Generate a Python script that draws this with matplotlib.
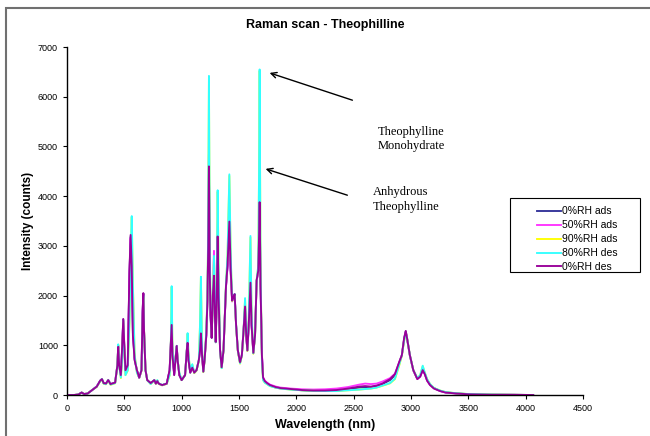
import matplotlib.pyplot as plt
from matplotlib.patches import Rectangle

# Raman spectra of theophylline at different RH steps
wavelength = [0, 60, 100, 128, 150, 180, 220, 260, 290, 305, 320, 340, 360, 380, 420,
              440, 447, 455, 470, 480, 491, 500, 510, 530, 545, 555, 565, 575, 590, 610,
              630, 650, 660, 666, 672, 685, 700, 730, 762, 775, 788, 800, 830, 870, 895,
              905, 913, 920, 935, 957, 965, 980, 1000, 1030, 1045, 1052, 1060, 1075, 1093, 1110,
              1130, 1150, 1160, 1168, 1178, 1189, 1200, 1215, 1225, 1232, 1238, 1245, 1252, 1262, 1272,
              1282, 1290, 1297, 1305, 1314, 1322, 1335, 1349, 1365, 1380, 1387, 1400, 1416, 1428, 1440,
              1450, 1462, 1475, 1490, 1509, 1525, 1540, 1553, 1563, 1573, 1585, 1600, 1610, 1625, 1640,
              1654, 1668, 1675, 1680, 1688, 1700, 1710, 1725, 1745, 1770, 1820, 1860, 1950, 2050, 2150,
              2250, 2350, 2450, 2550, 2600, 2650, 2700, 2750, 2817, 2860, 2898, 2920, 2940, 2954, 2965,
              2990, 3020, 3055, 3080, 3102, 3120, 3140, 3166, 3200, 3253, 3300, 3398, 3500, 3700, 3900,
              4065]

rh0_ads = [0, 0, 10, 50, 20, 30, 100, 170, 290, 320, 240, 230, 300, 220, 250,
           600, 980, 600, 390, 880, 1520, 980, 480, 590, 2450, 3180, 2600, 1250, 720, 500,
           350, 500, 1680, 2040, 1300, 500, 300, 240, 300, 230, 280, 230, 200, 230, 490,
           980, 1400, 800, 410, 990, 700, 400, 300, 400, 900, 1060, 700, 450, 560, 450,
           500, 700, 900, 1250, 800, 470, 700, 1200, 1900, 3050, 4830, 2550, 1600, 1150, 2000,
           2450, 1600, 1060, 1800, 3200, 2000, 900, 550, 900, 1800, 2200, 2600, 3500, 2500, 1900,
           1950, 2030, 1400, 900, 650, 800, 1300, 1790, 1200, 890, 1400, 2270, 1400, 840, 1200,
           2300, 2500, 3200, 3900, 2200, 800, 340, 270, 230, 190, 150, 135, 115, 95, 85,
           85, 90, 110, 150, 160, 160, 180, 220, 300, 400, 650, 800, 1130, 1280, 1150,
           800, 500, 330, 380, 510, 430, 300, 210, 140, 85, 55, 32, 18, 8, 4,
           0]

rh50_ads = [0, 0, 10, 50, 20, 30, 100, 175, 285, 315, 235, 230, 295, 215, 250,
            610, 1000, 610, 380, 860, 1500, 970, 470, 580, 2400, 3150, 2700, 1300, 740, 490,
            340, 490, 1650, 2020, 1320, 510, 300, 235, 295, 225, 285, 225, 195, 225, 480,
            960, 1450, 820, 420, 980, 710, 410, 300, 410, 890, 1080, 720, 460, 570, 460,
            510, 700, 920, 1300, 820, 480, 710, 1220, 1950, 3100, 4700, 2600, 1650, 1200, 2100,
            2900, 1700, 1080, 1850, 3150, 2050, 920, 560, 910, 1780, 2180, 2580, 3450, 2450, 1880,
            1940, 2010, 1390, 890, 660, 810, 1310, 1770, 1210, 900, 1410, 2250, 1420, 850, 1210,
            2290, 2480, 3100, 3800, 2250, 820, 360, 290, 250, 210, 170, 150, 130, 115, 110,
            115, 130, 160, 210, 230, 220, 230, 270, 340, 430, 660, 800, 1120, 1270, 1140,
            790, 490, 320, 370, 500, 420, 290, 200, 135, 80, 50, 30, 16, 7, 3,
            0]

rh90_ads = [0, 0, 10, 50, 20, 30, 100, 165, 275, 315, 225, 215, 295, 205, 235,
            590, 1010, 620, 340, 690, 1480, 920, 400, 490, 1450, 2750, 3580, 2250, 820, 450,
            350, 490, 1480, 1980, 1320, 500, 300, 220, 295, 225, 295, 225, 195, 225, 390,
            880, 2170, 920, 500, 970, 700, 440, 300, 400, 880, 1230, 800, 490, 610, 440,
            490, 690, 1390, 2360, 910, 460, 690, 1280, 1980, 3480, 6380, 3000, 1800, 1190, 1880,
            2760, 1790, 1070, 1980, 4090, 2500, 900, 540, 890, 1790, 2240, 2790, 4410, 2790, 1890,
            1940, 2020, 1390, 890, 630, 790, 1290, 1930, 1290, 890, 1490, 3170, 1590, 830, 1190,
            2300, 2590, 4480, 6520, 2500, 700, 300, 250, 220, 180, 150, 130, 110, 95, 85,
            80, 80, 95, 110, 120, 130, 150, 185, 235, 320, 600, 790, 1090, 1240, 1150,
            800, 500, 340, 400, 580, 450, 320, 220, 140, 90, 60, 35, 20, 10, 5,
            0]

rh80_des = [0, 0, 10, 50, 20, 30, 100, 170, 280, 320, 230, 220, 300, 210, 240,
            600, 1020, 600, 350, 700, 1500, 900, 400, 500, 1500, 2800, 3600, 2200, 800, 450,
            350, 500, 1500, 2000, 1300, 500, 300, 220, 300, 230, 300, 230, 200, 230, 400,
            900, 2190, 900, 500, 980, 700, 450, 300, 400, 900, 1245, 800, 500, 620, 450,
            500, 700, 1400, 2380, 900, 470, 700, 1300, 2000, 3500, 6420, 3000, 1800, 1200, 1900,
            2800, 1800, 1070, 2000, 4120, 2500, 900, 540, 900, 1800, 2250, 2800, 4440, 2800, 1900,
            1950, 2030, 1400, 900, 640, 800, 1300, 1950, 1300, 900, 1500, 3200, 1600, 840, 1200,
            2310, 2600, 4500, 6550, 2500, 700, 300, 250, 220, 180, 150, 130, 110, 95, 85,
            80, 80, 95, 110, 120, 130, 150, 190, 240, 330, 620, 800, 1100, 1250, 1150,
            800, 500, 340, 400, 590, 450, 320, 220, 140, 90, 60, 35, 20, 10, 5,
            0]

rh0_des = [0, 0, 10, 50, 20, 30, 100, 170, 290, 320, 240, 230, 300, 220, 250,
           600, 970, 600, 400, 900, 1530, 1000, 500, 600, 2500, 3220, 2600, 1200, 700, 500,
           350, 500, 1700, 2050, 1300, 500, 300, 240, 300, 230, 280, 230, 200, 230, 500,
           1000, 1410, 800, 400, 985, 700, 400, 300, 400, 900, 1050, 700, 450, 550, 450,
           500, 700, 900, 1240, 800, 470, 700, 1200, 1900, 3000, 4600, 2500, 1600, 1150, 2000,
           2400, 1600, 1070, 1800, 3190, 2000, 900, 560, 900, 1800, 2200, 2600, 3490, 2500, 1900,
           1950, 2030, 1400, 900, 660, 800, 1300, 1780, 1200, 900, 1400, 2260, 1400, 850, 1200,
           2310, 2500, 3200, 3880, 2200, 800, 350, 280, 240, 200, 160, 140, 120, 100, 90,
           90, 100, 130, 170, 180, 170, 190, 230, 320, 420, 670, 800, 1150, 1290, 1150,
           800, 500, 320, 370, 500, 420, 290, 200, 130, 80, 50, 30, 15, 5, 5,
           0]

labels = ['0%RH ads', '50%RH ads', '90%RH ads', '80%RH des', '0%RH des']
colors = ['#333399', '#FF33FF', '#FFFF00', '#33FFFF', '#990099']
series = [rh0_ads, rh50_ads, rh90_ads, rh80_des, rh0_des]

plt.rcParams['font.family'] = ['Liberation Sans', 'DejaVu Sans']

fig = plt.figure(figsize=(6.5, 4.36), dpi=100)
ax = fig.add_axes([0.103, 0.094, 0.794, 0.798])

for ys, lab, col in zip(series, labels, colors):
    ax.plot(wavelength, ys, color=col, lw=1.35, label=lab)

ax.set_xlim(0, 4500)
ax.set_ylim(0, 7000)
ax.set_xticks(range(0, 4501, 500))
ax.set_yticks(range(0, 7001, 1000))
ax.tick_params(labelsize=6.5, length=3, width=0.8, direction='out')
for side in ['top', 'right']:
    ax.spines[side].set_visible(False)
for side in ['left', 'bottom']:
    ax.spines[side].set_linewidth(1.0)

ax.set_xlabel('Wavelength (nm)', fontsize=9, fontweight='bold', labelpad=4)
ax.set_ylabel('Intensity (counts)', fontsize=8.5, fontweight='bold', labelpad=3)
fig.text(0.5, 0.942, 'Raman scan - Theophilline', ha='center', va='center',
         fontsize=9, fontweight='bold')

# peak callouts
serif = ['Liberation Serif', 'DejaVu Serif']
ax.annotate('', xy=(1744, 6498), xytext=(2512, 5914),
            arrowprops=dict(arrowstyle='->', color='black', lw=1.0))
ax.annotate('', xy=(1709, 4567), xytext=(2468, 4003),
            arrowprops=dict(arrowstyle='->', color='black', lw=1.0))
ax.text(2712, 5420, 'Theophylline\nMonohydrate', family=serif, fontsize=9,
        va='top', ha='left', linespacing=1.25)
ax.text(2669, 4200, 'Anhydrous\nTheophylline', family=serif, fontsize=9,
        va='top', ha='left', linespacing=1.25)

# legend with its own box, entries set in from the left edge
fig.patches.append(Rectangle((510 / 650, 1 - 272 / 436), 130 / 650, 74 / 436,
                             transform=fig.transFigure, fill=False,
                             edgecolor='black', lw=0.8))
fig.legend(loc='upper left', bbox_to_anchor=(530 / 650, 1 - 199 / 436), fontsize=7.5,
           frameon=False, handlelength=2.3, handletextpad=0.1,
           labelspacing=0.38, borderpad=0.2)

# chart area border
fig.patches.append(Rectangle((6 / 650, -0.05), 1.1, 1 - 8 / 436 + 0.05,
                             transform=fig.transFigure, fill=False,
                             edgecolor='#707070', lw=1.5))

fig.savefig('out.png', dpi=100)
